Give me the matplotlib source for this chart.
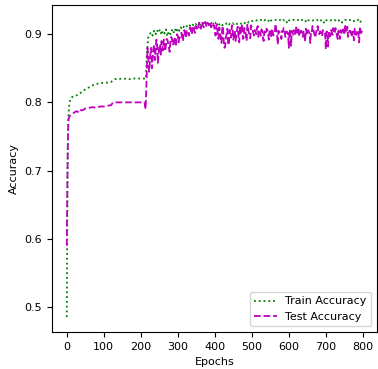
import matplotlib
matplotlib.use("Agg")
import matplotlib.pyplot as plt
import numpy as np

plt.rcParams['font.size'] = 8

# early part (smooth), epochs given explicitly
train_ep_early = [0, 1, 2, 3, 4, 5, 6, 8, 10, 15, 20, 30, 40, 50, 60, 70, 80, 90,
                  100, 110, 120, 130, 140, 150, 160, 170, 180, 190, 200, 210, 214]
train_early = [0.485, 0.600, 0.700, 0.750, 0.775, 0.785, 0.793, 0.800, 0.805, 0.808,
               0.809, 0.811, 0.815, 0.819, 0.822, 0.825, 0.827, 0.828, 0.829, 0.829,
               0.830, 0.834, 0.835, 0.834, 0.835, 0.834, 0.835, 0.835, 0.835, 0.835, 0.835]

test_ep_early = [0, 1, 2, 3, 4, 5, 6, 8, 10, 15, 20, 25, 30, 35, 40, 45, 50, 60, 70,
                 80, 90, 100, 110, 120, 125, 130, 150, 170, 190, 210, 213]
test_early = [0.590, 0.650, 0.700, 0.740, 0.765, 0.775, 0.778, 0.780, 0.781, 0.783,
              0.785, 0.787, 0.786, 0.790, 0.788, 0.789, 0.791, 0.792, 0.793, 0.792,
              0.794, 0.794, 0.795, 0.796, 0.800, 0.800, 0.800, 0.800, 0.800, 0.800, 0.790]

# noisy part, every 4 epochs from 216 (per mille)
train_late = [870, 895, 900, 903, 898, 905, 900, 906, 902, 907, 899, 905, 901, 907, 897, 904,
              900, 906, 901, 908, 903, 909, 905, 910, 907, 911, 909, 912, 910, 913, 911, 914,
              912, 915, 913, 915, 914, 916, 915, 917, 915, 916, 917, 915, 917, 916, 917, 915,
              916, 914, 916, 913, 915, 914, 916, 913, 915, 914, 916, 915, 917, 915, 916, 917,
              915, 917, 916, 918, 916, 918, 917, 919, 920, 921, 920, 921, 920, 921, 921, 919,
              921, 920, 921, 917, 920, 921, 920, 921, 921, 920, 921, 919, 921, 920, 921, 916,
              920, 921, 920, 921, 920, 921, 921, 919, 920, 921, 920, 921, 917, 920, 921, 921,
              920, 921, 920, 921, 919, 921, 920, 921, 916, 920, 921, 921, 920, 921, 920, 921,
              919, 921, 920, 921, 917, 920, 921, 921, 920, 921, 920, 921, 919, 921, 920, 921,
              917, 920]
test_late = [840, 870, 855, 880, 865, 885, 878, 888, 870, 885, 890, 876, 889, 884, 892, 880,
             890, 894, 886, 896, 889, 898, 893, 900, 895, 904, 898, 906, 902, 908, 903, 910,
             906, 912, 908, 914, 911, 915, 912, 916, 914, 917, 913, 916, 912, 915,
             905, 912, 900, 910, 896, 908, 890, 882, 900, 886, 906, 895, 910, 898, 890, 906,
             896, 912, 900, 893, 909, 898, 914, 902, 894, 910,
             902, 906, 900, 912, 903, 898, 905, 890, 903, 908, 901, 904, 897, 905, 903, 915,
             902, 905, 900, 893, 904, 908, 896, 902, 880, 903, 905, 899, 904, 910, 902, 897,
             905, 901, 904, 889, 903, 906, 900, 904, 912, 902, 895, 905, 901, 904, 899, 906,
             903, 878, 903, 905, 897, 904, 909, 901, 904, 893, 903, 906, 900, 904, 914, 902,
             896, 905, 901, 904, 891, 903, 906, 900, 911, 902]
# test values in between, every 4 epochs from 218 (per mille)
test_mid = [880, 845, 872, 850, 878, 862, 892, 858, 880, 870, 884, 892, 875, 893, 886, 874,
            896, 884, 892, 882, 900, 888, 896, 902, 890, 906, 895, 903, 898, 910, 900, 912,
            902, 909, 906, 917, 908, 918, 910, 918, 911, 915, 918, 910, 917, 912,
            898, 915, 893, 904, 887, 912, 880, 896, 908, 884, 900, 913, 892, 905, 898, 911,
            888, 903, 915, 895, 906, 890, 909, 898, 913,
            906, 898, 904, 909, 896, 903, 907, 895, 904, 900, 906, 892, 904, 908, 898, 903,
            906, 885, 904, 899, 905, 909, 897, 904, 901, 907, 883, 903, 906, 898, 904, 910,
            900, 905, 896, 903, 908, 899, 904, 887, 903, 907, 898, 905, 912, 900, 904, 897,
            906, 901, 904, 882, 903, 906, 899, 904, 909, 898, 905, 893, 903, 907, 899, 904,
            911, 900, 905, 896, 903, 908, 899, 904, 888, 903, 906]

train_ep = np.concatenate([train_ep_early, 216 + 4 * np.arange(len(train_late))])
train_acc = np.concatenate([train_early, np.array(train_late) / 1000])

test_ep = np.concatenate([test_ep_early, 216 + 4 * np.arange(len(test_late)),
                          218 + 4 * np.arange(len(test_mid))])
test_acc = np.concatenate([test_early, np.array(test_late) / 1000,
                           np.array(test_mid) / 1000])
order = np.argsort(test_ep, kind='stable')
test_ep = test_ep[order]
test_acc = test_acc[order]

fig = plt.figure(figsize=(3.78, 3.69), dpi=100)
ax = fig.add_axes([0.1376, 0.1003, 0.8594, 0.8861])
ax.plot(train_ep, train_acc, 'g:', lw=1.3, label='Train Accuracy')
ax.plot(test_ep, test_acc, 'm--', lw=1.3, label='Test Accuracy')
ax.set_xlabel('Epochs')
ax.set_ylabel('Accuracy')
ax.set_xticks(np.arange(0, 801, 100))
ax.legend(loc='lower right')
fig.savefig('out.png', dpi=100)
